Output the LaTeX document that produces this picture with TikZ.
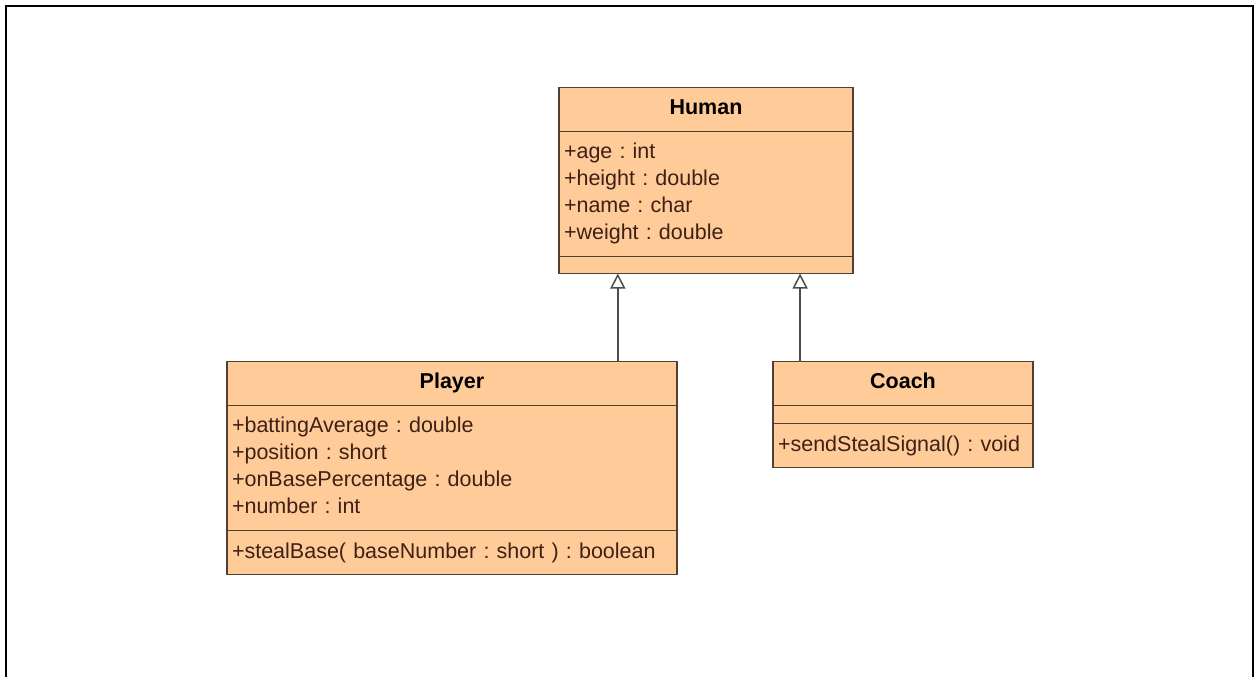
\documentclass[tikz,border=0pt]{standalone}
\usepackage{fontspec}
\setmainfont{Liberation Sans}
\frenchspacing
\usetikzlibrary{%
  positioning,
  arrows.meta,
  calc%
}
\definecolor{classfill}{RGB}{255,204,153}
\definecolor{classline}{RGB}{80,64,52}
\definecolor{membertext}{RGB}{62,32,20}
\tikzset{
  classhead/.style={
    draw=classline,
    fill=classfill,
    line width=1.5pt,
    minimum width=#1,
    minimum height=44pt,
    inner sep=0pt,
    outer sep=0pt,
    text height=15pt,
    text depth=5pt,
    font=\fontsize{21.5}{27}\selectfont\bfseries
  },
  classpart/.style={
    draw=classline,
    fill=classfill,
    line width=1.5pt,
    text width=#1,
    inner xsep=5pt,
    inner ysep=0pt,
    outer sep=0pt,
    align=left,
    text=membertext,
    font=\fontsize{21.5}{27}\selectfont
  },
  inherits/.style={
    draw=black!70,
    line width=1.5pt,
    -{Triangle[open,fill=white,length=15pt,width=15pt]}
  }
}
\begin{document}
\begin{tikzpicture}[x=1pt,y=-1pt]
\useasboundingbox (0,0) rectangle (1254,677);
\draw[line width=2pt] (6,677) |- (1253,6) -- (1253,677);
% Human
\node[classhead=294pt] (human) at (706,109.5) {Human};
\node[classpart=284pt,minimum height=125pt,text depth=87pt,below=0pt of human] (humanattr)
  {+age : int\\+height : double\\+name : char\\+weight : double};
\node[classpart=284pt,minimum height=17pt,below=0pt of humanattr] (humanop) {};
% Player
\node[classhead=450pt] (player) at (452,383.5) {Player};
\node[classpart=440pt,minimum height=125pt,text depth=87pt,below=0pt of player] (playerattr)
  {+battingAverage : double\\+position : short\\+onBasePercentage : double\\+number : int};
\node[classpart=440pt,minimum height=44pt,below=0pt of playerattr] (playerop)
  {+stealBase( baseNumber : short ) : boolean};
% Coach
\node[classhead=260pt] (coach) at (903,383.5) {Coach};
\node[classpart=250pt,minimum height=18pt,below=0pt of coach] (coachattr) {};
\node[classpart=250pt,minimum height=44pt,below=0pt of coachattr] (coachop)
  {+sendStealSignal() : void};
\foreach \child/\pos in {player/.2, coach/.82} {
  \coordinate (foot) at ($(humanop.south west)!\pos!(humanop.south east)$);
  \draw[inherits] (\child.north -| foot) -- (foot);
}
\end{tikzpicture}
\end{document}
